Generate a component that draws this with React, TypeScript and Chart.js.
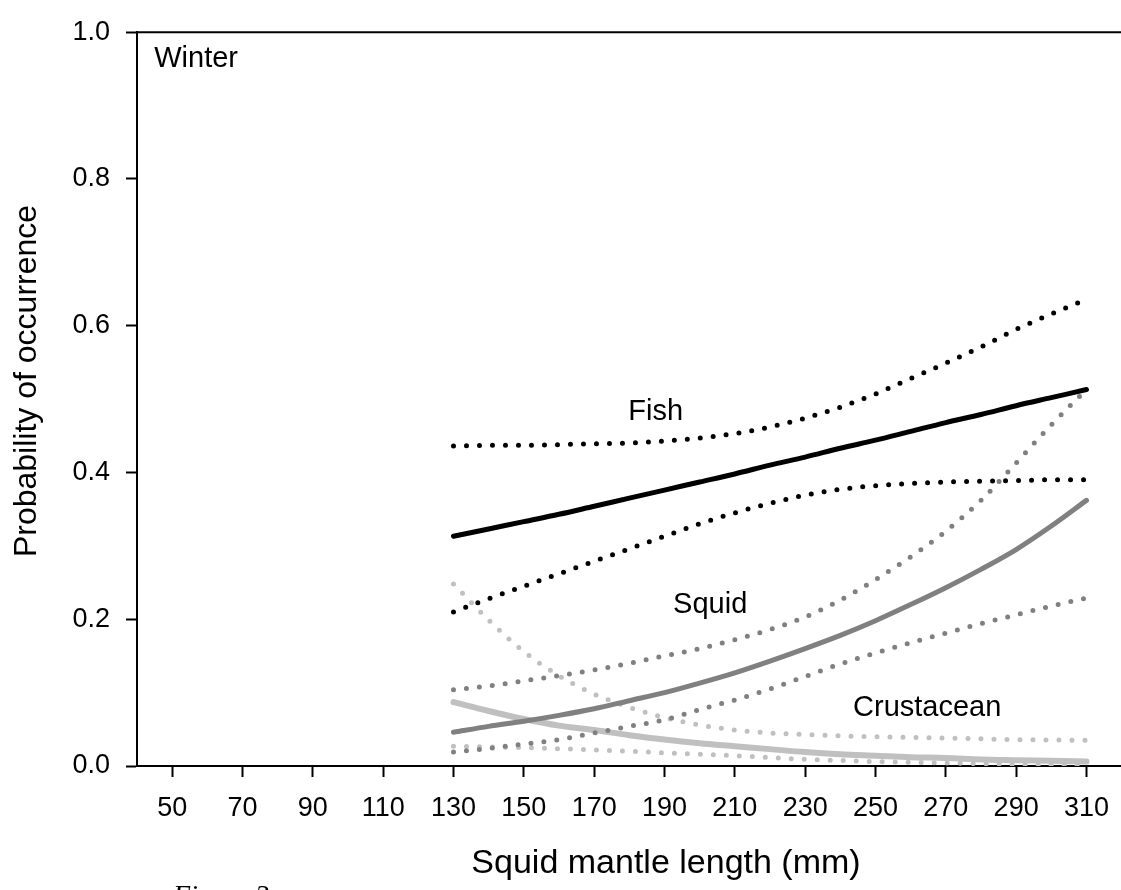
import React, { useEffect, useRef } from "react";
import { Chart, registerables } from "chart.js";

Chart.register(...registerables);

// ---- data ----
const xValues = [130, 140, 150, 160, 170, 180, 190, 200, 210, 220, 230, 240, 250, 260, 270, 280, 290, 300, 310];

const fishFit = [0.313, 0.323, 0.333, 0.343, 0.354, 0.365, 0.376, 0.387, 0.398, 0.41, 0.421, 0.433, 0.444, 0.456, 0.468, 0.479, 0.491, 0.502, 0.513];
const fishUpper = [0.436, 0.437, 0.437, 0.438, 0.439, 0.44, 0.443, 0.447, 0.453, 0.462, 0.474, 0.489, 0.507, 0.528, 0.549, 0.571, 0.595, 0.616, 0.636];
const fishLower = [0.21, 0.228, 0.245, 0.262, 0.279, 0.296, 0.313, 0.33, 0.345, 0.358, 0.369, 0.377, 0.382, 0.385, 0.387, 0.388, 0.389, 0.39, 0.39];

const squidFit = [0.046, 0.054, 0.061, 0.069, 0.078, 0.089, 0.1, 0.113, 0.127, 0.143, 0.16, 0.178, 0.198, 0.22, 0.243, 0.268, 0.295, 0.327, 0.362];
const squidUpper = [0.104, 0.109, 0.116, 0.123, 0.131, 0.14, 0.15, 0.16, 0.172, 0.186, 0.203, 0.226, 0.254, 0.285, 0.32, 0.362, 0.413, 0.465, 0.513];
const squidLower = [0.019, 0.024, 0.03, 0.036, 0.045, 0.054, 0.063, 0.077, 0.09, 0.105, 0.122, 0.139, 0.154, 0.168, 0.181, 0.194, 0.206, 0.218, 0.229];

const crustFit = [0.087, 0.075, 0.064, 0.055, 0.049, 0.042, 0.036, 0.031, 0.027, 0.023, 0.019, 0.016, 0.014, 0.012, 0.011, 0.009, 0.008, 0.007, 0.006];
const crustUpper = [0.248, 0.199, 0.156, 0.123, 0.098, 0.08, 0.066, 0.056, 0.049, 0.045, 0.043, 0.041, 0.04, 0.039, 0.038, 0.037, 0.036, 0.0355, 0.035];
const crustLower = [0.027, 0.026, 0.025, 0.0235, 0.022, 0.02, 0.018, 0.016, 0.014, 0.0115, 0.009, 0.0075, 0.006, 0.005, 0.004, 0.003, 0.0022, 0.0016, 0.0012];

const xTickValues = [50, 70, 90, 110, 130, 150, 170, 190, 210, 230, 250, 270, 290, 310];
const yTickValues = [0, 0.2, 0.4, 0.6, 0.8, 1.0];

const labelTexts = ["Winter", "Fish", "Squid", "Crustacean"];
const labelX = [44.9, 187.5, 203, 264.7];
const labelY = [0.952, 0.4714, 0.208, 0.0688];

const xTitle = "Squid mantle length (mm)";
const yTitle = "Probability of occurrence";
const captionText = "Figure 3";

// ---- styles ----
const FONT = '"Liberation Sans", Arial, sans-serif';
const BLACK = "#000000";
const MID = "#808080";
const LIGHT = "#c0c0c0";

function series(vals: number[]) {
  return xValues.map((x, i) => ({ x, y: vals[i] }));
}

function solid(label: string, vals: number[], color: string, width: number) {
  return {
    label,
    data: series(vals),
    borderColor: color,
    backgroundColor: color,
    borderWidth: width,
    borderCapStyle: "round" as const,
    pointRadius: 0,
    cubicInterpolationMode: "monotone" as const,
    fill: false,
  };
}

function dotted(label: string, vals: number[], color: string) {
  return {
    label,
    data: series(vals),
    borderColor: color,
    backgroundColor: color,
    borderWidth: 5,
    borderDash: [0, 13],
    borderCapStyle: "round" as const,
    pointRadius: 0,
    cubicInterpolationMode: "monotone" as const,
    fill: false,
  };
}

const textPlugin = {
  id: "textPlugin",
  afterDraw(chart: any) {
    const { ctx, chartArea, scales } = chart;
    ctx.save();
    // top frame line
    ctx.strokeStyle = BLACK;
    ctx.lineWidth = 2;
    ctx.beginPath();
    ctx.moveTo(chartArea.left, chartArea.top);
    ctx.lineTo(chartArea.right, chartArea.top);
    ctx.stroke();

    // annotations
    ctx.fillStyle = BLACK;
    ctx.font = `29px ${FONT}`;
    ctx.textBaseline = "alphabetic";
    labelTexts.forEach((t, i) => {
      const px = scales.x.getPixelForValue(labelX[i]);
      const py = scales.y.getPixelForValue(labelY[i]);
      ctx.textAlign = i === 0 ? "left" : "center";
      ctx.fillText(t, px, py);
    });

    // axis titles
    ctx.font = `34px ${FONT}`;
    ctx.textAlign = "center";
    ctx.textBaseline = "alphabetic";
    ctx.fillText(xTitle, 666, 873);

    ctx.save();
    ctx.translate(36, 381);
    ctx.rotate(-Math.PI / 2);
    ctx.font = `32px ${FONT}`;
    ctx.fillText(yTitle, 0, 0);
    ctx.restore();

    ctx.restore();
  },
};

export default function App() {
  const canvasRef = useRef<HTMLCanvasElement | null>(null);

  useEffect(() => {
    const canvas = canvasRef.current;
    if (!canvas) return;
    const chart = new Chart(canvas, {
      type: "line",
      data: {
        datasets: [
          solid("Fish", fishFit, BLACK, 5),
          dotted("Fish upper", fishUpper, BLACK),
          dotted("Fish lower", fishLower, BLACK),
          solid("Squid", squidFit, MID, 5),
          dotted("Squid upper", squidUpper, MID),
          dotted("Squid lower", squidLower, MID),
          solid("Crustacean", crustFit, LIGHT, 6),
          dotted("Crustacean upper", crustUpper, LIGHT),
          dotted("Crustacean lower", crustLower, LIGHT),
        ] as any,
      },
      options: {
        animation: false,
        responsive: false,
        devicePixelRatio: 1,
        layout: { padding: { top: 25, left: 0, right: 0, bottom: 0 } },
        plugins: {
          legend: { display: false },
          tooltip: { enabled: false },
        },
        scales: {
          x: {
            type: "linear",
            min: 40,
            max: 320,
            afterBuildTicks: (s: any) => {
              s.ticks = xTickValues.map((v) => ({ value: v }));
            },
            afterFit: (s: any) => {
              s.height = 124;
            },
            ticks: {
              autoSkip: false,
              maxRotation: 0,
              minRotation: 0,
              padding: 15,
              color: BLACK,
              font: { family: FONT, size: 27 },
              callback: (v: any) => String(v),
            },
            grid: {
              drawOnChartArea: false,
              drawTicks: true,
              tickLength: 11,
              tickWidth: 2,
              tickColor: BLACK,
            },
            border: { display: true, color: BLACK, width: 2 },
          },
          y: {
            type: "linear",
            min: 0,
            max: 1,
            afterBuildTicks: (s: any) => {
              s.ticks = yTickValues.map((v) => ({ value: v }));
            },
            afterFit: (s: any) => {
              s.width = 137;
            },
            ticks: {
              padding: 16,
              color: BLACK,
              font: { family: FONT, size: 27 },
              callback: (v: any) => Number(v).toFixed(1),
            },
            grid: {
              drawOnChartArea: false,
              drawTicks: true,
              tickLength: 11,
              tickWidth: 2,
              tickColor: BLACK,
            },
            border: { display: true, color: BLACK, width: 2 },
          },
        },
      } as any,
      plugins: [textPlugin],
    });
    return () => chart.destroy();
  }, []);

  return (
    <div
      style={{
        position: "absolute",
        left: 0,
        top: 0,
        width: 1121,
        height: 890,
        overflow: "hidden",
        background: "#ffffff",
      }}
    >
      <canvas ref={canvasRef} width={1124} height={890} style={{ display: "block" }} />
      <div
        style={{
          position: "absolute",
          left: 173,
          top: 881,
          fontFamily: '"Liberation Serif", "Times New Roman", serif',
          fontStyle: "italic",
          fontSize: 28,
          lineHeight: "28px",
          whiteSpace: "nowrap",
          color: "#000",
        }}
      >
        {captionText}
      </div>
    </div>
  );
}
